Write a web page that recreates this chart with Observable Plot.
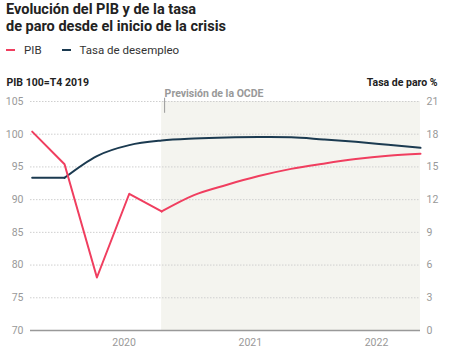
<!DOCTYPE html>
<html><head><meta charset="utf-8">
<script src="https://cdn.jsdelivr.net/npm/d3@7"></script>
<script src="https://cdn.jsdelivr.net/npm/@observablehq/plot@0.6"></script>
<style>
body{margin:0;background:#fff;font-family:Roboto,sans-serif;}
#wrap{position:relative;width:450px;height:356px;overflow:hidden;}
#title{position:absolute;left:6px;top:1px;font-weight:700;font-size:14.5px;line-height:17px;color:#222;white-space:nowrap;}
#legend{position:absolute;left:6px;top:42px;font-size:11.5px;line-height:16px;color:#333;display:flex;align-items:center;white-space:nowrap;}
#legend .sw{display:inline-block;width:9px;height:2px;margin-right:9px;}
#legend .it{display:flex;align-items:center;margin-right:20px;}
#chart{position:absolute;left:0;top:62px;}
</style></head>
<body><div id="wrap">
<div id="title">Evolución del PIB y de la tasa<br>de paro desde el inicio de la crisis</div>
<div id="legend"></div>
<div id="chart"></div>
</div>
<script>
// Quarters as decimal years: T4 2019 ... T4 2022
const quarters = [2019.75, 2020.0, 2020.25, 2020.5, 2020.75, 2021.0, 2021.25, 2021.5, 2021.75, 2022.0, 2022.25, 2022.5, 2022.75];
// PIB (100 = T4 2019)
const pib = [100.4, 95.4, 78.1, 90.9, 88.2, 90.7, 92.25, 93.6, 94.7, 95.5, 96.2, 96.7, 97.0];
// Tasa de paro %
const paro = [14.0, 14.0, 16.0, 17.0, 17.42, 17.6, 17.7, 17.74, 17.72, 17.52, 17.3, 17.03, 16.75];
const seriesNames = ["PIB", "Tasa de desempleo"];
const seriesColors = ["#f03e5f", "#1b3a50"];
const forecastStart = 2020.75;
const yTicks = [70, 75, 80, 85, 90, 95, 100, 105];
const xTickPos = [2020.46, 2021.435, 2022.41];
const xTickLabels = ["2020", "2021", "2022"];
const leftTitle = "PIB 100=T4 2019";
const rightTitle = "Tasa de paro %";
const annotation = "Previsión de la OCDE";

// dual axis: paro 0..21 maps onto PIB 70..105
const toLeft = u => 70 + u * 35 / 21;
const toRight = v => Math.round((v - 70) * 21 / 35);

const rows = quarters.map((q, i) => ({q, pib: pib[i], paro: toLeft(paro[i])}));
const hist = rows.filter(d => d.q <= forecastStart);
const fcst = rows.filter(d => d.q >= forecastStart);
const paroHist = rows.filter(d => d.q <= 2020.0);
const paroFcst = rows.filter(d => d.q >= 2020.0);

const legend = document.getElementById("legend");
seriesNames.forEach((n, i) => {
  const it = document.createElement("span"); it.className = "it";
  const sw = document.createElement("span"); sw.className = "sw"; sw.style.background = seriesColors[i];
  it.appendChild(sw); it.appendChild(document.createTextNode(n));
  legend.appendChild(it);
});

const chart = Plot.plot({
  width: 450, height: 294,
  marginLeft: 30, marginRight: 30, marginTop: 39, marginBottom: 26,
  x: {type: "linear", domain: [2019.737, quarters[quarters.length - 1]]},
  y: {domain: [70, 105]},
  style: {fontFamily: "Roboto, sans-serif", fontSize: "10.5px", color: "#999", background: "transparent"},
  marks: [
    Plot.rect([{a: forecastStart, b: quarters[quarters.length - 1]}], {x1: "a", x2: "b", y1: 70, y2: 105, fill: "#f4f4ef"}),
    Plot.gridY(yTicks.filter(d => d > 70), {stroke: "#cfcfcf", strokeOpacity: 1, strokeDasharray: "1.5,1.5"}),
    Plot.ruleY([70], {stroke: "#999", strokeWidth: 1.3}),
    Plot.axisY({anchor: "left", ticks: yTicks, tickSize: 0, tickPadding: 7, label: null, fill: "#999"}),
    Plot.axisY({anchor: "right", ticks: yTicks, tickSize: 0, tickPadding: 6, label: null, fill: "#999", tickFormat: d => String(toRight(d))}),
    Plot.axisX({ticks: xTickPos, tickSize: 0, tickPadding: 8, label: null, fill: "#999", tickFormat: d => xTickLabels[xTickPos.indexOf(d)]}),
    Plot.ruleX([forecastStart], {y1: 105.5, y2: 103.2, dx: 3, stroke: "#999", strokeWidth: 1}),
    Plot.text([annotation], {x: forecastStart, frameAnchor: "top", dy: -12, dx: 3, textAnchor: "start", fill: "#999", fontWeight: 700, fontSize: 10.5}),
    Plot.text([leftTitle], {frameAnchor: "top-left", dx: -24, dy: -23, textAnchor: "start", fill: "#222", fontWeight: 700, fontSize: 10.5}),
    Plot.text([rightTitle], {frameAnchor: "top-right", dx: 17, dy: -23, textAnchor: "end", fill: "#222", fontWeight: 700, fontSize: 10.5}),
    Plot.line(paroHist, {x: "q", y: "paro", stroke: seriesColors[1], strokeWidth: 2}),
    Plot.line(paroFcst, {x: "q", y: "paro", stroke: seriesColors[1], strokeWidth: 2, curve: "monotone-x"}),
    Plot.line(hist, {x: "q", y: "pib", stroke: seriesColors[0], strokeWidth: 2}),
    Plot.line(fcst, {x: "q", y: "pib", stroke: seriesColors[0], strokeWidth: 2, curve: "monotone-x"})
  ]
});
document.getElementById("chart").appendChild(chart);
</script>
</body></html>
